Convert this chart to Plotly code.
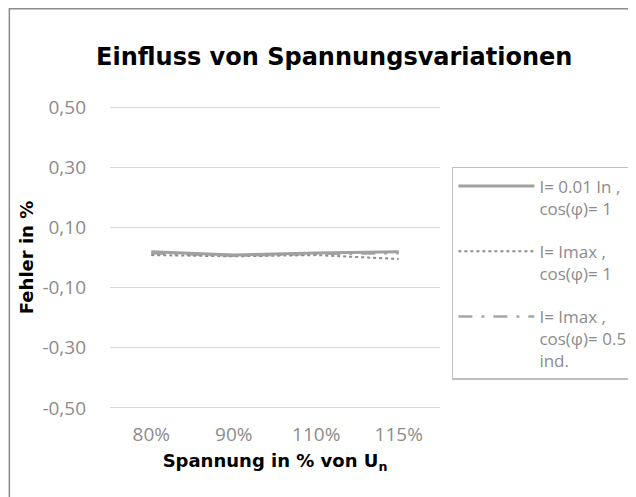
import plotly.graph_objects as go

categories = ["80%", "90%", "110%", "115%"]
s1 = [0.019, 0.008, 0.015, 0.019]   # I= 0.01 In, cos=1
s2 = [0.008, 0.004, 0.008, -0.005]  # I= Imax, cos=1
s3 = [0.014, 0.006, 0.012, 0.014]   # I= Imax, cos=0.5 ind.
names = ["I= 0.01 In ,<br>cos(φ)= 1",
         "I= Imax ,<br>cos(φ)= 1",
         "I= Imax ,<br>cos(φ)= 0.5<br>ind."]
ytickvals = [-0.5, -0.3, -0.1, 0.1, 0.3, 0.5]
yticktext = ["-0,50", "-0,30", "-0,10", "0,10", "0,30", "0,50"]

fig = go.Figure()
# draw order: dash-dot at the back, solid on top; legend order set by legendrank
fig.add_trace(go.Scatter(x=categories, y=s3, name=names[2], mode="lines",
                         legendgroup="c", legendrank=3,
                         line=dict(color="#a6a6a6", width=2.5, dash="14px,9px,3px,9px")))
fig.add_trace(go.Scatter(x=categories, y=s2, name=names[1], mode="lines",
                         legendgroup="b", legendrank=2,
                         line=dict(color="#8c8c8c", width=2, dash="dot")))
fig.add_trace(go.Scatter(x=categories, y=s1, name=names[0], mode="lines",
                         legendgroup="a", legendrank=1,
                         line=dict(color="#a0a0a0", width=3)))

fig.update_layout(
    width=636, height=497,
    paper_bgcolor="white", plot_bgcolor="white",
    margin=dict(l=102, r=204, t=96, b=94, autoexpand=False),
    title=dict(text="<b>Einfluss von Spannungsvariationen</b>",
               font=dict(family="DejaVu Sans", size=24, color="black"),
               x=0.513, xanchor="center", y=0.903, yanchor="middle"),
    legend=dict(x=1.036, y=0.795, xanchor="left", yanchor="top",
                traceorder="grouped", valign="top",
                bordercolor="#bfbfbf", borderwidth=1.5,
                font=dict(family="Open Sans", size=17, color="#8c8c8c"),
                itemwidth=76, tracegroupgap=18),
    showlegend=True,
)
fig.update_xaxes(
    showgrid=False, showline=False, ticks="",
    range=[-0.5, 3.5],
    tickfont=dict(family="Open Sans", size=19, color="#8c8c8c"),
    ticklabelstandoff=10,
    title=dict(text="<b>Spannung in % von U<sub>n</sub></b>",
               font=dict(family="DejaVu Sans", size=18, color="black"), standoff=8),
)
fig.update_yaxes(
    range=[-0.51, 0.51], tickvals=ytickvals, ticktext=yticktext,
    showgrid=True, gridcolor="#d9d9d9", gridwidth=1,
    zeroline=False, showline=False, ticks="",
    tickfont=dict(family="Open Sans", size=19, color="#8c8c8c"),
    ticklabelstandoff=23,
    title=dict(text="<b>Fehler in %</b>",
               font=dict(family="DejaVu Sans", size=18, color="black"), standoff=4),
)
fig.add_shape(type="rect", xref="paper", yref="paper",
              x0=-0.305, x1=1.7, y0=-0.4, y1=1.31,
              line=dict(color="#8c8c8c", width=1.5), layer="below")

fig.write_html("out.html")
